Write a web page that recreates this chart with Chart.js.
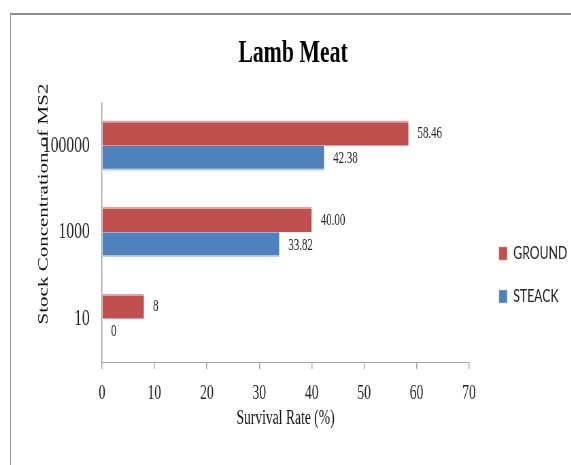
<!DOCTYPE html>
<html>
<head>
<meta charset="utf-8">
<script src="https://cdn.jsdelivr.net/npm/chart.js@4.4.1/dist/chart.umd.min.js"></script>
<style>
  html, body { margin: 0; padding: 0; background: #fff; overflow: hidden; width: 571px; height: 465px; }
  #frame { position: absolute; left: 10px; top: 13px; width: 620px; height: 520px;
           border-top: 2px solid #8c8c8c; border-left: 1px solid #9a9a9a; }
  #wrap { position: absolute; left: 0; top: 0; width: 840px; height: 465px;
          transform: scaleX(0.68); transform-origin: 0 0; }
</style>
</head>
<body>
<div id="frame"></div>
<div id="wrap"><canvas id="c" width="840" height="465"></canvas></div>
<script>
// ---- data ----
const categories = ['100000', '1000', '10'];
const seriesNames = ['GROUND', 'STEACK'];
const groundValues = [58.46, 40.00, 8];
const steackValues = [42.38, 33.82, 0];
const groundLabels = ['58.46', '40.00', '8'];
const steackLabels = ['42.38', '33.82', '0'];
const xMin = 0, xMax = 70, xStep = 10;

// ---- layout (canvas units; canvas is squeezed horizontally by SX) ----
const SX = 0.68;
const W = 840;
const px = x => x / SX;

const tweaks = {
  id: 'tweaks',
  beforeLayout(chart) {
    const lg = chart.legend;
    if (lg && !lg.__patched) {
      const fit = lg.fit.bind(lg);
      lg.fit = function () { fit(); this.width = W - px(469); };
      lg.__patched = true;
    }
  },
  afterLayout(chart) {
    const lg = chart.legend;
    if (lg) {
      const pad = lg.options.labels.padding;
      lg.left = px(499) - pad;
      lg.right = W;
      lg.top = 244.5 - pad;
      lg.bottom = lg.top + 200;
    }
    const ys = chart.scales.y;
    if (ys && !ys.__patched) {
      const dt = ys.drawTitle.bind(ys);
      ys.drawTitle = function () {
        const t = this.top, b = this.bottom;
        this.top = 50; this.bottom = 358;
        dt();
        this.top = t; this.bottom = b;
      };
      ys.__patched = true;
    }
  },
  afterDatasetsDraw(chart) {
    const ctx = chart.ctx;
    ctx.save();
    ctx.font = '16px "Liberation Serif"';
    ctx.fillStyle = '#222';
    ctx.textBaseline = 'middle';
    ctx.textAlign = 'left';
    chart.data.datasets.forEach((ds, i) => {
      const meta = chart.getDatasetMeta(i);
      meta.data.forEach((bar, j) => {
        ctx.fillText(ds.valueLabels[j], bar.x + px(9), bar.y + 1);
      });
    });
    ctx.restore();
  }
};

new Chart(document.getElementById('c'), {
  type: 'bar',
  data: {
    labels: categories,
    datasets: [
      {
        label: seriesNames[0],
        data: groundValues,
        valueLabels: groundLabels,
        backgroundColor: '#C0504D',
        borderColor: '#DFA5A3',
        borderWidth: { top: 2, right: 0, bottom: 0, left: 0 },
        borderSkipped: false,
        categoryPercentage: 0.58,
        barPercentage: 1.0
      },
      {
        label: seriesNames[1],
        data: steackValues,
        valueLabels: steackLabels,
        backgroundColor: '#4F81BD',
        borderColor: '#B9CDE5',
        borderWidth: { top: 0, right: 0, bottom: 2, left: 0 },
        borderSkipped: false,
        categoryPercentage: 0.58,
        barPercentage: 1.0
      }
    ]
  },
  options: {
    indexAxis: 'y',
    responsive: false,
    animation: false,
    layout: { padding: { left: 2 * px(293) - W, right: 0, top: 0, bottom: 0 } },
    plugins: {
      title: {
        display: true,
        text: 'Lamb Meat',
        color: '#000',
        font: { family: '"Liberation Serif"', size: 32, weight: 'bold' },
        padding: { top: 35, bottom: 29 }
      },
      legend: {
        position: 'right',
        align: 'start',
        labels: {
          boxWidth: 12,
          boxHeight: 13,
          padding: 25,
          color: '#222',
          font: { family: 'Lato', size: 18 }
        }
      },
      tooltip: { enabled: true }
    },
    scales: {
      x: {
        type: 'linear',
        min: xMin,
        max: xMax,
        ticks: {
          stepSize: xStep,
          padding: 13,
          color: '#222',
          font: { family: '"Liberation Serif"', size: 20 }
        },
        grid: {
          drawOnChartArea: false,
          drawTicks: true,
          tickLength: 7,
          color: '#a6a6a6',
          lineWidth: 1.5
        },
        border: { display: true, color: '#a6a6a6', width: 1 },
        title: {
          display: true,
          text: 'Survival Rate (%)',
          color: '#111',
          font: { family: '"Liberation Serif"', size: 20 },
          padding: { top: 34, bottom: 34 }
        },
        afterFit(s) { s.height = 103; }
      },
      y: {
        type: 'category',
        ticks: {
          padding: 18,
          color: '#222',
          font: { family: '"Liberation Serif"', size: 23 }
        },
        grid: { display: false, drawTicks: false, tickLength: 0 },
        border: { display: true, color: '#a6a6a6', width: 1.5 },
        title: {
          display: true,
          text: 'Stock Concentration of MS2',
          color: '#111',
          font: { family: '"Liberation Serif"', size: 21 },
          padding: { top: 30, bottom: 30 }
        },
        afterFit(s) { s.width = px(102) - (2 * px(293) - W); }
      }
    }
  },
  plugins: [tweaks]
});
</script>
</body>
</html>
